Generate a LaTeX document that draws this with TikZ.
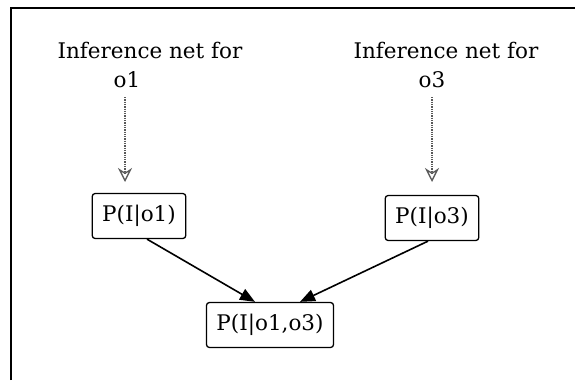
\documentclass[tikz,border=0pt]{standalone}
\usepackage{fontspec}
\setmainfont{DejaVu Serif}
\usetikzlibrary{arrows.meta}
\begin{document}
\begin{tikzpicture}[x=1pt,y=-1pt,
  lbl/.style={font=\fontsize{21.5}{26}\selectfont, inner sep=0pt, anchor=base},
  pbox/.style={draw, line width=1.3pt, rounded corners=3pt, font=\fontsize{21.5}{26}\selectfont,
     inner xsep=10pt, minimum height=45pt},
  netarrow/.style={line width=1.3pt, densely dotted, gray!70!black, -{Stealth[length=14pt,width=14pt,open]}},
  conn/.style={line width=1.6pt, -{Triangle[length=15pt,width=12pt]}}
]
\useasboundingbox (0,0) rectangle (575,380);
\draw[line width=1.3pt] (11,380) -- (11,8) -- (575,8);

\node[lbl] (t1a) at (150,58) {Inference net for};
\node[lbl] (t1b) at (127,87) {o1};
\node[lbl] (t3a) at (446,58) {Inference net for};
\node[lbl] (t3b) at (432,87) {o3};

\coordinate (s1) at (125,97);
\coordinate (e1) at (125,182);
\coordinate (s3) at (432,97);
\coordinate (e3) at (432,182);
\draw[netarrow] (s1) -- (e1);
\draw[netarrow] (s3) -- (e3);

\node[pbox] (b1) at (139,216) {P(I|o1)};
\node[pbox] (b3) at (432,218) {P(I|o3)};
\node[pbox] (b13) at (270,325) {P(I|o1,o3)};

\draw[conn] ([xshift=8pt]b1.south) -- ([xshift=-15pt]b13.north);
\draw[conn] ([xshift=-4pt]b3.south) -- ([xshift=30pt]b13.north);
\end{tikzpicture}
\end{document}
